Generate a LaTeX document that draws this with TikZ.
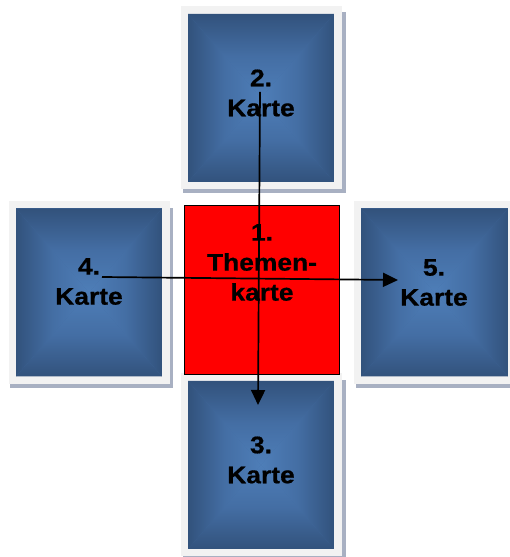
\documentclass[tikz,border=0pt]{standalone}
\usepackage{fontspec}
\setmainfont{Liberation Sans}[FakeStretch=1.1, BoldFeatures={FakeBold=0.6}]
\usetikzlibrary{arrows.meta}
\definecolor{kdunkel}{RGB}{50,82,124}
\definecolor{kmitte}{RGB}{68,110,164}
\definecolor{khell}{RGB}{78,126,184}
\definecolor{krahmen}{RGB}{242,242,242}
\definecolor{kschatten}{RGB}{168,176,194}
\begin{document}
\begin{tikzpicture}[x=1pt, y=1pt,
    karte/.style={minimum width=146pt, minimum height=168pt, inner sep=0pt, fill=kmitte,
        preaction={draw=krahmen, line width=15pt},
        path picture={
            \path (path picture bounding box.north west) coordinate (nw)
                  (path picture bounding box.north east) coordinate (ne)
                  (path picture bounding box.south west) coordinate (sw)
                  (path picture bounding box.south east) coordinate (se)
                  (path picture bounding box.center) coordinate (mm);
            \shade[top color=kdunkel, bottom color=khell, middle color=kmitte] (nw) -- (ne) -- (mm) -- cycle;
            \shade[top color=khell, bottom color=kdunkel, middle color=kmitte] (sw) -- (se) -- (mm) -- cycle;
            \shade[left color=kdunkel, right color=khell, middle color=kmitte] (nw) -- (sw) -- (mm) -- cycle;
            \shade[left color=khell, right color=kdunkel, middle color=kmitte] (ne) -- (se) -- (mm) -- cycle;
        }},
    thema/.style={draw=black, fill=red, line width=0.8pt, minimum width=155pt, minimum height=169pt, inner sep=0pt},
    kartentext/.style={align=center, inner sep=0pt, font=\fontsize{24}{30}\selectfont\bfseries},
    schatten/.style={fill=kschatten},
    pfeil/.style={line width=1.7pt, -{Triangle[length=15pt, width=14pt]}}]
        \useasboundingbox (0,0) rectangle (509,557);
        % schatten
        \fill[schatten] (183,364) rectangle (346,545);
        \fill[schatten] (10,169) rectangle (173,349);
        \fill[schatten] (356,169) rectangle (520,349);
        \fill[schatten] (183,-10) rectangle (346,177);
        % karten
        \node[karte] (k2) at (261,459) {};
        \node[karte] (k4) at (89,264.5) {};
        \node[karte, minimum width=147pt] (k5) at (434.5,264.5) {};
        \node[karte] (k3) at (261,92) {};
        \node[thema] (k1) at (261.5,267.5) {};
        \node[kartentext] (t1) at (262,294.5) {1.\\Themen-\\karte};
        \node[kartentext] (t2) at (261,464) {2.\\Karte};
        \node[kartentext] (t3) at (261,97) {3.\\Karte};
        \node[kartentext] (t4) at (89,275.5) {4.\\Karte};
        \node[kartentext] (t5) at (434,274.5) {5.\\Karte};
        % pfeile
        \coordinate (a2) at (260,465);
        \coordinate (a3) at (258,152);
        \coordinate (a4) at (102,280);
        \coordinate (a5) at (398,277);
        \draw[pfeil] (a2) -- (a3);
        \draw[pfeil] (a4) -- (a5);
\end{tikzpicture}
\end{document}
